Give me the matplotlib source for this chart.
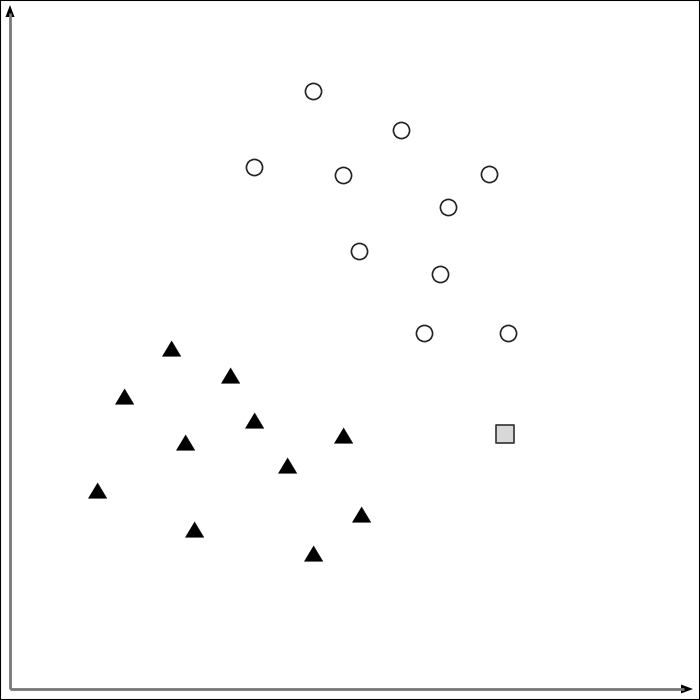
import numpy as np
import matplotlib
matplotlib.use('Agg')
import matplotlib.pyplot as plt
from matplotlib.patches import Rectangle, Polygon

# class A (open circles)
circle_x = [303, 391, 244, 333, 479, 438, 349, 430, 414, 498]
circle_y = [598, 559, 522, 514, 515, 482, 438, 415, 356, 356]

# class B (filled triangles)
tri_x = [161, 220, 114, 244, 175, 333, 277, 87, 351, 184, 303]
tri_y = [341, 314, 293, 269, 247, 254, 224, 199, 175, 160, 136]

# unknown point (grey square)
query_x = [495]
query_y = [255]

fig = plt.figure(figsize=(7, 7), dpi=100)
ax = fig.add_axes([0, 0, 1, 1])
# origin of the drawn axes sits at pixel (10, 689)
ax.set_xlim(-10, 690)
ax.set_ylim(-11, 689)
ax.axis('off')

# outer frame
fig.patches.append(Rectangle((0, 0), 1, 1, transform=fig.transFigure,
                             fill=False, edgecolor='black', linewidth=1.5))

# axes lines with black arrowheads
ax.plot([0, 0], [0, 676], color='#777777', linewidth=2.0, solid_capstyle='butt')
ax.plot([0, 674], [0, 0], color='#777777', linewidth=2.0, solid_capstyle='butt')
ax.add_patch(Polygon([[-4.5, 672], [4.5, 672], [0, 684]], closed=True,
                     color='black', linewidth=0))
ax.add_patch(Polygon([[671, -4.5], [671, 4.5], [683, 0]], closed=True,
                     color='black', linewidth=0))

tri_marker = [(-0.6, -0.5), (0.6, -0.5), (0, 0.5)]

ax.scatter(circle_x, circle_y, s=135, marker='o', facecolor='white',
           edgecolor='#222222', linewidth=1.2, zorder=3)
ax.scatter(tri_x, tri_y, s=180, marker=tri_marker, facecolor='black',
           edgecolor='black', linewidth=0.3, zorder=3)
ax.scatter(query_x, query_y, s=150, marker='s', facecolor='#d8d8d8',
           edgecolor='#333333', linewidth=1.2, zorder=3)

fig.savefig('out.png', dpi=100)
